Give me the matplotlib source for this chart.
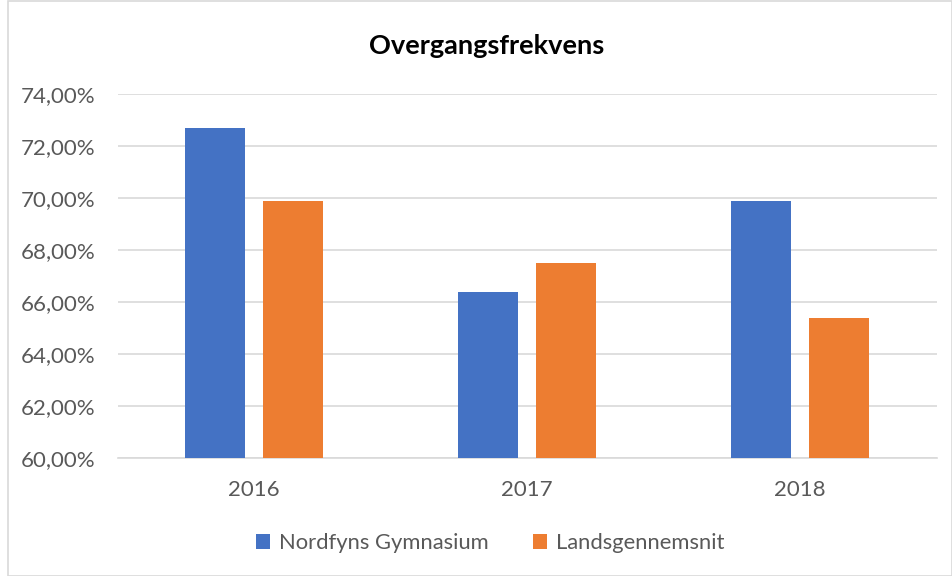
import matplotlib
matplotlib.use("Agg")
import matplotlib.pyplot as plt
from matplotlib.patches import Rectangle
import numpy as np

plt.rcParams['font.family'] = ['Lato', 'DejaVu Sans']

years = ["2016", "2017", "2018"]
nordfyns = [72.7, 66.4, 69.9]
lands = [69.9, 67.5, 65.4]
series_names = ["Nordfyns Gymnasium", "Landsgennemsnit"]
yticks = [60, 62, 64, 66, 68, 70, 72, 74]

blue = "#4472C4"
orange = "#ED7D31"
txt = "#595959"

fig = plt.figure(figsize=(9.52, 5.76), dpi=100)
ax = fig.add_axes([117.5/952, 1-458/576, (936.5-117.5)/952, (458-94)/576])

x = np.arange(len(years))
w = 0.223
off = 0.143
ax.bar(x - off, nordfyns, w, color=blue, label=series_names[0], zorder=3)
ax.bar(x + off, lands, w, color=orange, label=series_names[1], zorder=3)

ax.set_xlim(-0.5, 2.5)
ax.set_ylim(60, 74)
ax.set_yticks(yticks)
ax.set_yticklabels([f"{v:.2f}".replace(".", ",") + "%" for v in yticks], color=txt, fontsize=16)
ax.set_xticks(x)
ax.set_xticklabels(years, color=txt, fontsize=16)
ax.yaxis.grid(True, color="#D9D9D9", linewidth=1.2, zorder=0)
ax.set_axisbelow(True)
for s in ["top", "right", "left"]:
    ax.spines[s].set_visible(False)
ax.spines["bottom"].set_color("#D9D9D9")
ax.spines["bottom"].set_linewidth(1.2)
ax.tick_params(axis="y", length=0, pad=16)
ax.tick_params(axis="x", length=0, pad=16)

fig.text(487/952, 1-46/576, "Overgangsfrekvens", ha="center", va="center",
         fontsize=19.5, fontweight="bold", color="black")

leg = fig.legend(loc="center", bbox_to_anchor=(490/952, 1-543/576), ncol=2, frameon=False,
                 fontsize=15.8, handlelength=0.65, handleheight=0.65, columnspacing=2.0,
                 handletextpad=0.4)
for t in leg.get_texts():
    t.set_color(txt)

fig.patches.append(Rectangle((8/952, 0.5/576), 1 - 8.5/952, 1 - 1/576, transform=fig.transFigure,
                             fill=False, edgecolor="#D9D9D9", linewidth=1.2))

fig.savefig("out.png", dpi=100)
